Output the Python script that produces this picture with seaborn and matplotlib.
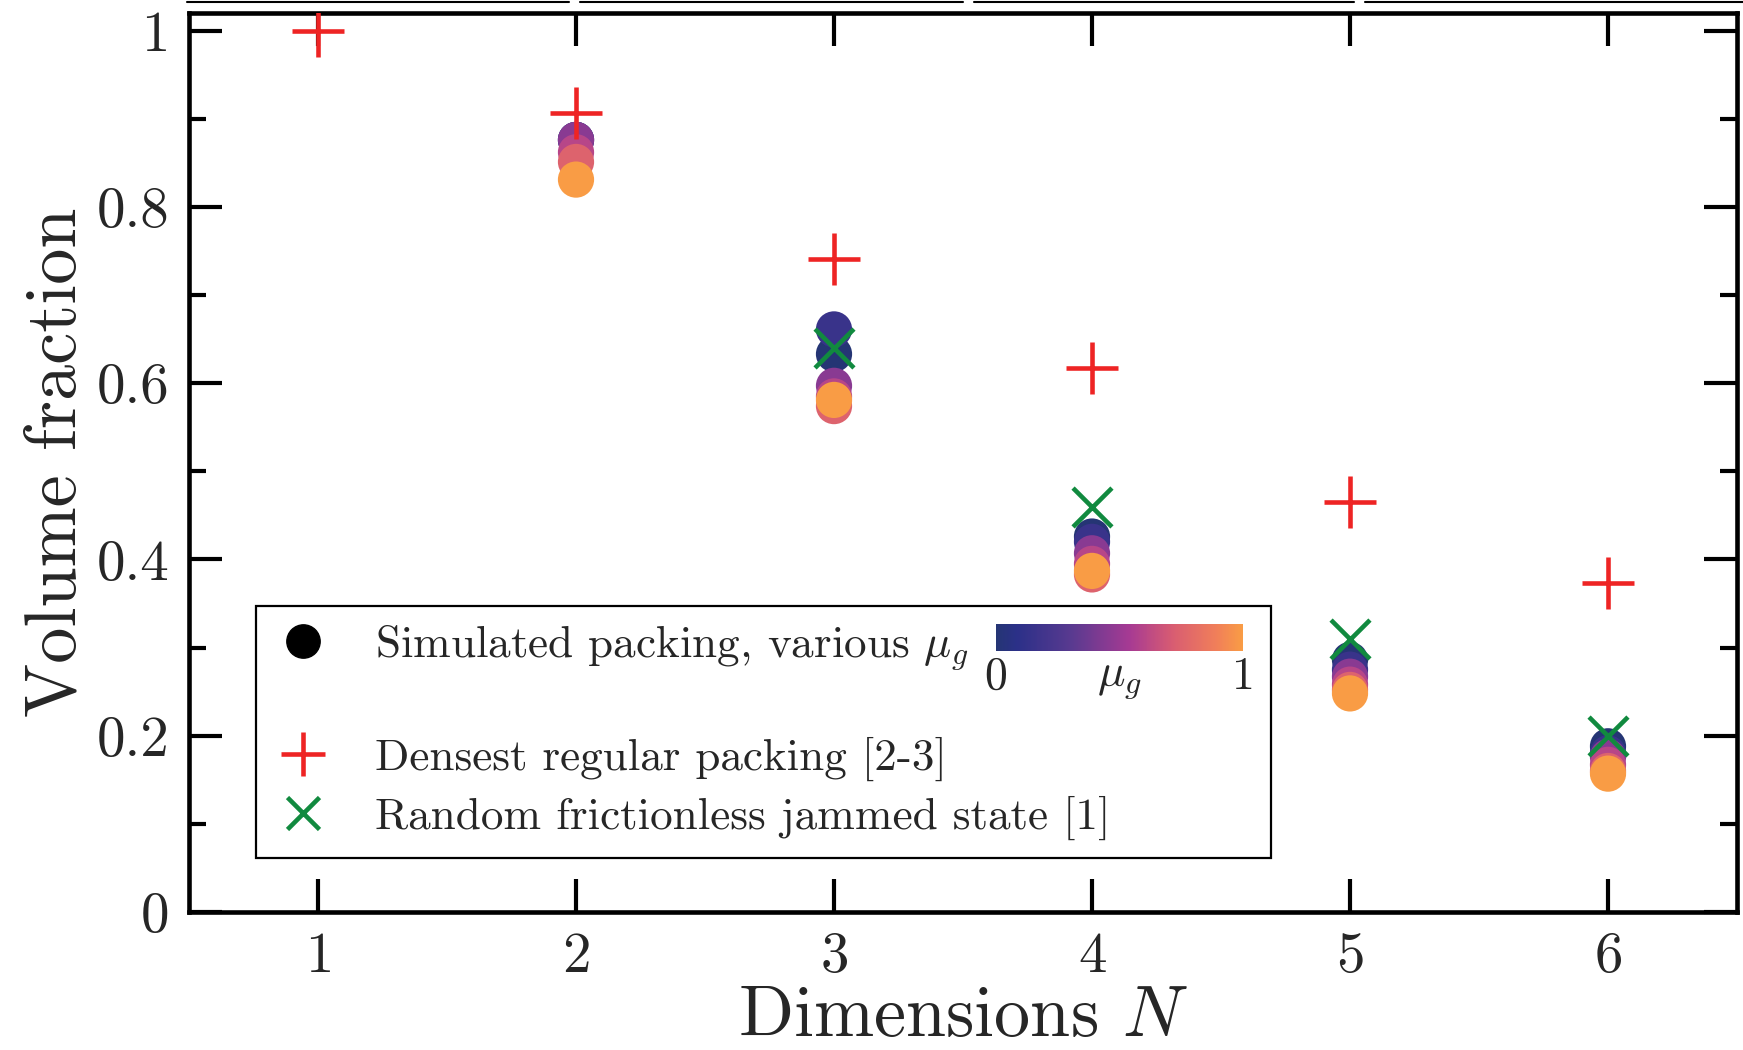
import matplotlib
matplotlib.use("Agg")
import matplotlib.pyplot as plt
import seaborn as sns
import numpy as np
import pandas as pd
from matplotlib.colors import LinearSegmentedColormap, Normalize
from matplotlib.lines import Line2D
from matplotlib.ticker import FixedLocator, FixedFormatter, MultipleLocator
import matplotlib.cm as cm

# ---------------- data ----------------
sim_N = [2]*6 + [3]*6 + [4]*6 + [5]*6 + [6]*6
sim_mu = [0.0, 0.15, 0.45, 0.6, 0.75, 1.0] * 5
sim_phi = [0.876, 0.876, 0.876, 0.862, 0.851, 0.831,
           0.633, 0.661, 0.597, 0.585, 0.574, 0.581,
           0.426, 0.420, 0.407, 0.395, 0.383, 0.387,
           0.286, 0.275, 0.267, 0.258, 0.252, 0.248,
           0.188, 0.180, 0.176, 0.167, 0.160, 0.157]

dense_N = [1, 2, 3, 4, 5, 6]
dense_phi = [1.0, 0.9069, 0.7405, 0.6169, 0.4653, 0.3729]

jam_N = [3, 4, 5, 6]
jam_phi = [0.64, 0.46, 0.31, 0.20]

yticks = [0, 0.2, 0.4, 0.6, 0.8, 1.0]
ytick_labels = ["0", "0.2", "0.4", "0.6", "0.8", "1"]
xticks = [1, 2, 3, 4, 5, 6]

legend_labels = ["Simulated packing, various $\\mu_g$",
                 "Densest regular packing [2-3]",
                 "Random frictionless jammed state [1]"]

# ---------------- style ----------------
sns.set_theme(style="ticks")
plt.rcParams["font.family"] = ["cmr10", "DejaVu Serif"]
plt.rcParams["mathtext.fontset"] = "cm"
plt.rcParams["axes.formatter.use_mathtext"] = True
plt.rcParams["axes.unicode_minus"] = False

cmap = LinearSegmentedColormap.from_list(
    "mug",
    [(0.0, "#253574"), (0.083, "#2b3088"), (0.31, "#5a3a90"),
     (0.54, "#a63a93"), (0.715, "#d85c72"), (0.89, "#f07e5a"),
     (1.0, "#f99c45")])
norm = Normalize(0, 1)

fig = plt.figure(figsize=(17.43, 10.5), dpi=100)
ax = fig.add_axes([189/1743, 138/1050, 1548/1743, 899/1050])

df = pd.DataFrame({"N": sim_N, "mu": sim_mu, "phi": sim_phi})
sns.scatterplot(data=df, x="N", y="phi", hue="mu", palette=cmap, hue_norm=norm,
                s=680, linewidth=0, marker="o", ax=ax, legend=False, zorder=3)
sns.scatterplot(x=dense_N, y=dense_phi, color="#ee2424", marker="+", s=37**2,
                linewidth=3.3, ax=ax, legend=False, zorder=4)
sns.scatterplot(x=jam_N, y=jam_phi, color="#118a3f", marker="x", s=28**2,
                linewidth=3.3, ax=ax, legend=False, zorder=5)

ax.set_xlim(0.5, 6.5)
ax.set_ylim(0, 1.02)
ax.xaxis.set_major_locator(FixedLocator(xticks))
ax.yaxis.set_major_locator(FixedLocator(yticks))
ax.yaxis.set_major_formatter(FixedFormatter(ytick_labels))
ax.yaxis.set_minor_locator(MultipleLocator(0.1))
ax.tick_params(which="both", direction="in", top=True, right=True,
               labelsize=41, width=3, color="black")
ax.tick_params(which="major", length=24, pad=14)
ax.tick_params(which="minor", length=12)
for sp in ax.spines.values():
    sp.set_linewidth(3.3)
    sp.set_color("black")
ax.set_xlabel("Dimensions $N$", fontsize=52, labelpad=2)
ax.set_ylabel("Volume fraction", fontsize=52, labelpad=5)
ax.grid(False)

handles = [
    Line2D([], [], marker="o", color="black", linestyle="none", markersize=24),
    Line2D([], [], linestyle="none", marker=None),
    Line2D([], [], marker="+", color="#ee2424", linestyle="none",
           markersize=31, markeredgewidth=3.3),
    Line2D([], [], marker="x", color="#118a3f", linestyle="none",
           markersize=23, markeredgewidth=3.3),
]
labels = [legend_labels[0], " ", legend_labels[1], legend_labels[2]]
leg = ax.legend(handles, labels, loc="lower left",
                bbox_to_anchor=(0.0433, 0.060, 0.6557, 0.28), mode="expand",
                fontsize=32.5, frameon=True, fancybox=False, edgecolor="black",
                framealpha=1, borderaxespad=0, handletextpad=0.94,
                labelspacing=0.33, borderpad=0.4, handlelength=1.3)
leg.get_texts()[1].set_fontsize(13)
leg.get_frame().set_linewidth(1.6)
leg.set_zorder(10)

# colorbar inset
cax = fig.add_axes([996/1743, (1050-651)/1050, 247/1743, 27/1050])
cax.set_zorder(20)
sm = cm.ScalarMappable(norm=norm, cmap=cmap)
cb = fig.colorbar(sm, cax=cax, orientation="horizontal", ticks=[0, 1])
cb.outline.set_visible(False)
cb.ax.tick_params(length=0, labelsize=33, pad=4)
cb.ax.set_xticklabels(["0", "1"])
cb.ax.set_xlabel("$\\mu_g$", fontsize=33, labelpad=-28)

# cropped neighbour panel edge at top
for x0, x1 in [(187, 569), (580, 963), (974, 1354), (1365, 1743)]:
    fig.add_artist(Line2D([x0/1743, x1/1743], [0.9985, 0.9985],
                          transform=fig.transFigure, color="black", lw=1.5))

fig.savefig("out.png", dpi=100)
